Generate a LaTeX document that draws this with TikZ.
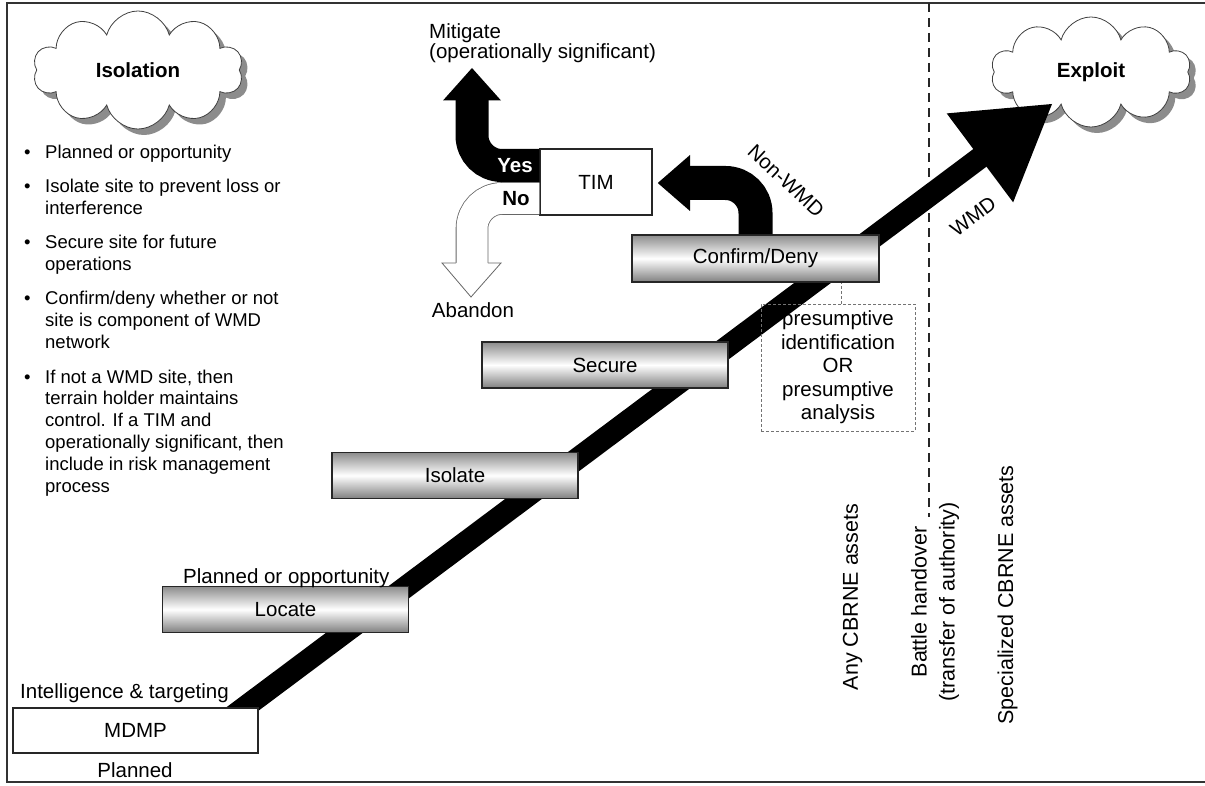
\documentclass[tikz,border=0pt]{standalone}
\usepackage{fontspec}
\setmainfont{Liberation Sans}
\usetikzlibrary{shapes.symbols,shadows,calc}
\newcommand{\bulletitem}[1]{\parbox[t]{290pt}{\hangindent=21pt\hangafter=1\makebox[21pt][l]{\textbullet}#1}}
\begin{document}
\begin{tikzpicture}[x=1pt,y=-1pt,
  lbl/.style={inner sep=0pt, font=\fontsize{20.5}{24}\selectfont},
  boldlbl/.style={inner sep=0pt, font=\fontsize{20.5}{24}\selectfont\bfseries},
  item/.style={anchor=base west, inner sep=0pt, font=\fontsize{18.5}{21.8}\selectfont},
  stagebox/.style={draw=black!85, line width=1.5pt, top color=black!45, bottom color=black!50, middle color=white, minimum width=246pt, minimum height=46pt, inner sep=0pt, font=\fontsize{20.5}{24}\selectfont},
  plainbox/.style={draw=black!85, line width=1.5pt, fill=white, inner sep=0pt, font=\fontsize{20.5}{24}\selectfont},
  puff/.style={cloud, cloud puffs=10, cloud ignores aspect, draw=black!75, line width=0.8pt, fill=white, inner sep=0pt, font=\fontsize{20.5}{24}\selectfont\bfseries, drop shadow={shadow xshift=6pt, shadow yshift=-6pt, fill=black!45, opacity=1, draw=none}},
  rot/.style={inner sep=0pt, rotate=90, font=\fontsize{21.5}{28}\selectfont, align=center},
  dashbox/.style={draw=black!55, line width=0.8pt, dash pattern=on 3pt off 2pt},
]
\useasboundingbox (0,0) rectangle (1205,786);
% frame
\draw[line width=2pt, black!80] (1205,3) -- (7,3) -- (7,782) -- (1205,782);
% battle handover divider
\draw[line width=2pt, black!85, dash pattern=on 9pt off 6pt] (929,3) -- (929,517);

% clouds
\node[puff, minimum width=210pt, minimum height=118pt] (isol) at (138,70) {Isolation};
\node[puff, minimum width=200pt, minimum height=110pt] (expl) at (1091,72) {Exploit};

% main WMD arrow
\coordinate (wmdS) at (213,731);
\coordinate (wmdT) at (1052,104);
\coordinate (wmdB) at ($(wmdT)!90pt!(wmdS)$);
\draw[line width=22pt] (wmdS) -- ($(wmdT)!88pt!(wmdS)$);
\fill ($(wmdB)!55.5pt!90:(wmdT)$) -- (wmdT) -- ($(wmdB)!55.5pt!-90:(wmdT)$) -- cycle;

% stage boxes
\node[plainbox, minimum width=245pt, minimum height=45pt] (mdmp) at (135.5,730.5) {MDMP};
\node[stagebox] (locate) at (285.5,609.5) {Locate};
\node[stagebox] (isolate) at (455,475.5) {Isolate};
\node[stagebox] (secure) at (605,365) {Secure};
\node[stagebox, minimum width=247pt, minimum height=47pt] (conf) at (755.5,258.5) {Confirm/Deny};

% TIM box
\node[plainbox, minimum width=112pt, minimum height=66pt] (tim) at (596,182) {TIM};

% Non-WMD arrow
\coordinate (nwT) at ($(tim.east)+(5,1)$);
\draw[line width=34pt, rounded corners=30pt] (conf.north) -- (755.5,183) -- (688,183);
\fill (690,155) -- (nwT) -- (690,211) -- cycle;

% Mitigate arrow (Yes)
\coordinate (mitT) at (472,68);
\draw[line width=33pt, rounded corners=30pt] ($(tim.west)+(0,-16.5)$) -- (472,165.5) -- (472,98);
\fill (443,100.5) -- (mitT) -- (501,100.5) -- cycle;
\node[boldlbl, text=white] (yes) at (515,166) {Yes};

% Abandon arrow (No)
\coordinate (abT) at (471,297);
\draw[double=white, double distance=31pt, line width=0.8pt, draw=black!60, rounded corners=30pt] ($(tim.west)+(0,16.5)$) -- (472,198.5) -- (472,263);
\fill[white] (442,263) -- (abT) -- (501,263) -- cycle;
\draw[line width=0.8pt, black!60, line join=miter] (456.1,263) -- (442,263) -- (abT) -- (501,263) -- (487.9,263);
\node[boldlbl] (no) at (516,198.5) {No};

% labels
\node[lbl, anchor=base west] (intel) at (20,698) {Intelligence \& targeting};
\node[lbl, anchor=base] (planned) at (135,777) {Planned};
\node[lbl, anchor=base west] (popp) at (183,583) {Planned or opportunity};
\node[lbl, anchor=base west, font=\fontsize{20.5}{20}\selectfont] (mitlbl) at (429,39) {\parbox[t]{300pt}{Mitigate\\(operationally significant)}};
\node[lbl, anchor=base] (aband) at (473,318) {Abandon};
\node[lbl, rotate=-43] (nonwmd) at (786,181) {Non-WMD};
\node[lbl, rotate=37] (wmd) at (973,216) {WMD};

% presumptive box
\node[dashbox, minimum width=154pt, minimum height=127pt, align=center, inner sep=0pt, font=\fontsize{20.5}{23.5}\selectfont] (pres) at (838,367.5) {presumptive\\identification\\OR\\presumptive\\analysis};
\coordinate (presTop) at ($(pres.north)+(3,0)$);
\draw[dashbox] (presTop) -- (presTop |- conf.south);

% rotated asset labels
\node[rot] (anyc) at (852.5,597) {Any CBRNE assets};
\node[rot] (battle) at (935,602) {Battle handover\\(transfer of authority)};
\node[rot] (spec) at (1007.5,595) {Specialized CBRNE assets};

% bullet list
\node[item] (b1) at (24,159) {\bulletitem{Planned or opportunity}};
\node[item] (b2) at (24,193) {\bulletitem{Isolate site to prevent loss or\newline interference}};
\node[item] (b3) at (24,249) {\bulletitem{Secure site for future\newline operations}};
\node[item] (b4) at (24,305) {\bulletitem{Confirm/deny whether or not\newline site is component of WMD\newline network}};
\node[item] (b5) at (24,383) {\bulletitem{If not a WMD site, then\newline terrain holder maintains\newline control. If a TIM and\newline operationally significant, then\newline include in risk management\newline process}};
\end{tikzpicture}
\end{document}
